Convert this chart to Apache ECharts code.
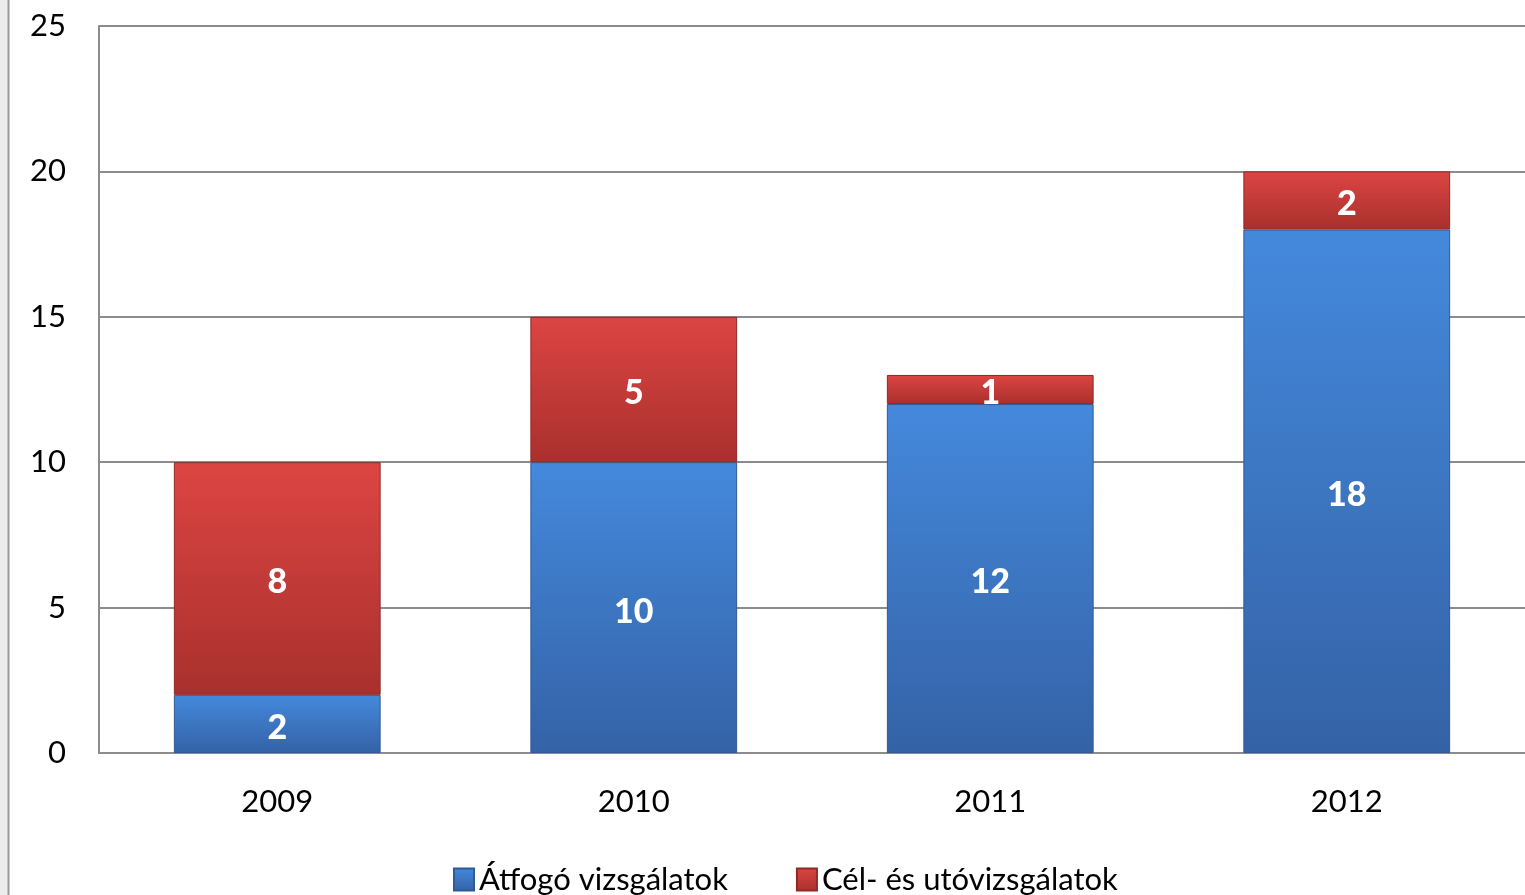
<!DOCTYPE html>
<html>
<head>
<meta charset="utf-8">
<script src="https://cdn.jsdelivr.net/npm/echarts@6/dist/echarts.min.js"></script>
<style>
  html, body { margin: 0; padding: 0; background: #fff; }
  #main { width: 1525px; height: 895px; }
</style>
</head>
<body>
<div id="main"></div>
<script>
// chart data
const years = ['2009', '2010', '2011', '2012']
const atfogo = [2, 10, 12, 18]
const celEsUto = [8, 5, 1, 2]
const seriesNames = ['Átfogó vizsgálatok', 'Cél- és utóvizsgálatok']

const font = 'Lato, "Open Sans", sans-serif'

const chart = echarts.init(document.getElementById('main'))

// függőleges színátmenet a hasábokhoz
const grad = (top, bottom) => new echarts.graphic.LinearGradient(0, 0, 0, 1, [
  { offset: 0, color: top },
  { offset: 1, color: bottom }
])

const labelStyle = {
  show: true,
  position: 'inside',
  offset: [0, 4],
  color: '#fff',
  fontFamily: font,
  fontWeight: 900,
  fontSize: 34
}

chart.setOption({
  animation: false,
  backgroundColor: '#fff',
  graphic: [
    { type: 'rect', shape: { x: 0, y: 0, width: 8, height: 895 }, style: { fill: '#ececec' } },
    { type: 'line', shape: { x1: 8.5, y1: 0, x2: 8.5, y2: 895 }, style: { stroke: '#9a9a9a', lineWidth: 2 } }
  ],
  grid: {
    left: 99,
    right: 0,
    top: 26,
    bottom: 142
  },
  legend: {
    bottom: -5,
    left: 448,
    itemWidth: 20,
    itemHeight: 22,
    itemGap: 68,
    icon: 'rect',
    textStyle: { fontFamily: font, fontSize: 31, color: '#000' },
    data: seriesNames
  },
  xAxis: {
    type: 'category',
    data: years,
    axisLine: { show: true, lineStyle: { color: '#8c8c8c', width: 2 } },
    axisTick: { show: false },
    axisLabel: { color: '#000', fontFamily: font, fontSize: 31, margin: 33 }
  },
  yAxis: {
    type: 'value',
    min: 0,
    max: 25,
    interval: 5,
    axisLine: { show: true, lineStyle: { color: '#8c8c8c', width: 2 } },
    axisTick: { show: false },
    splitLine: { lineStyle: { color: '#8c8c8c', width: 2 } },
    axisLabel: { color: '#000', fontFamily: font, fontSize: 31, margin: 33 }
  },
  series: [
    {
      name: seriesNames[0],
      type: 'bar',
      stack: 'total',
      barWidth: '58%',
      data: atfogo,
      label: labelStyle,
      itemStyle: {
        color: grad('#4489dc', '#3462a6'),
        borderColor: '#2f5a95',
        borderWidth: 1
      }
    },
    {
      name: seriesNames[1],
      type: 'bar',
      stack: 'total',
      data: celEsUto,
      label: labelStyle,
      itemStyle: {
        color: grad('#dc4542', '#a9302d'),
        borderColor: '#8e2a27',
        borderWidth: 1
      }
    }
  ]
})
</script>
</body>
</html>
